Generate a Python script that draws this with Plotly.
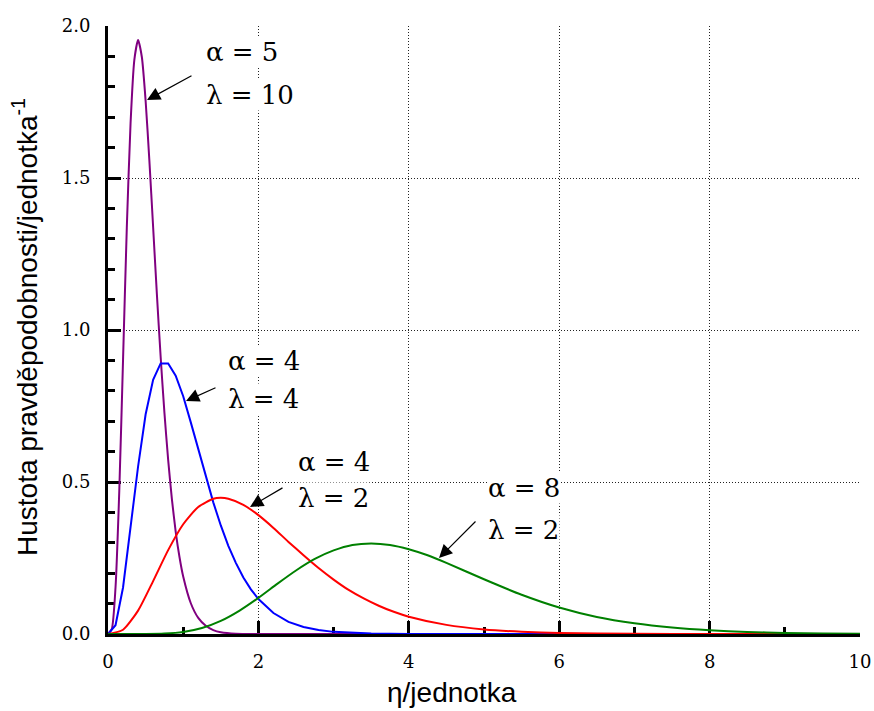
import plotly.graph_objects as go

# ---- data ----
purple_x = [0, 0.05, 0.1, 0.15, 0.2, 0.25, 0.3, 0.35, 0.4, 0.45, 0.5, 0.55, 0.6, 0.65, 0.7, 0.75,
            0.8, 0.85, 0.9, 0.95, 1.0, 1.1, 1.2, 1.3, 1.4, 1.5, 1.7, 2.0, 3.0, 10.0]
purple_y = [0, 0.016, 0.153, 0.471, 0.902, 1.336, 1.680, 1.888, 1.954, 1.898, 1.755, 1.558, 1.339,
            1.118, 0.912, 0.729, 0.573, 0.443, 0.337, 0.254, 0.189, 0.102, 0.053, 0.027, 0.013,
            0.006, 0.001, 0.0, 0.0, 0.0]

blue_x = [0, 0.1, 0.2, 0.3, 0.4, 0.5, 0.6, 0.7, 0.8, 0.9, 1.0, 1.1, 1.2, 1.3, 1.4, 1.5, 1.6, 1.7,
          1.8, 1.9, 2.0, 2.2, 2.4, 2.6, 2.8, 3.0, 3.5, 4.0, 5.0, 10.0]
blue_y = [0, 0.029, 0.153, 0.347, 0.551, 0.722, 0.836, 0.890, 0.890, 0.850, 0.782, 0.697, 0.607,
          0.517, 0.433, 0.357, 0.290, 0.234, 0.186, 0.147, 0.115, 0.069, 0.040, 0.023, 0.013,
          0.007, 0.002, 0.0003, 0, 0]

red_x = [0, 0.2, 0.4, 0.6, 0.8, 1.0, 1.2, 1.4, 1.5, 1.6, 1.8, 2.0, 2.2, 2.4, 2.6, 2.8, 3.0, 3.2,
         3.4, 3.6, 3.8, 4.0, 4.5, 5.0, 5.5, 6.0, 7.0, 8.0, 10.0]
red_y = [0, 0.014, 0.077, 0.174, 0.276, 0.361, 0.418, 0.445, 0.448, 0.445, 0.425, 0.391, 0.349,
         0.303, 0.259, 0.217, 0.179, 0.145, 0.117, 0.093, 0.073, 0.057, 0.030, 0.015, 0.0074,
         0.0035, 0.0008, 0.0002, 0.0]

green_x = [0, 0.5, 0.75, 1.0, 1.25, 1.5, 1.75, 2.0, 2.25, 2.5, 2.75, 3.0, 3.25, 3.5, 3.75, 4.0,
           4.25, 4.5, 5.0, 5.5, 6.0, 6.5, 7.0, 7.5, 8.0, 8.5, 9.0, 9.5, 10.0]
green_y = [0, 0.0001, 0.0015, 0.0069, 0.0199, 0.0432, 0.0771, 0.119, 0.165, 0.209, 0.247, 0.275,
           0.293, 0.298, 0.293, 0.279, 0.259, 0.234, 0.180, 0.129, 0.087, 0.056, 0.035, 0.021,
           0.012, 0.0067, 0.0037, 0.0020, 0.0011]

x_tickvals = [0, 2, 4, 6, 8, 10]
x_ticktext = ["0", "2", "4", "6", "8", "10"]
y_tickvals = [0, 0.5, 1.0, 1.5, 2.0]
y_ticktext = ["0.0", "0.5", "1.0", "1.5", "2.0"]

labels = [
    ("α = 5", "λ = 10"),
    ("α = 4", "λ = 4"),
    ("α = 4", "λ = 2"),
    ("α = 8", "λ = 2"),
]
x_title = "η/jednotka"
y_title = "Hustota pravděpodobnosti/jednotka<sup>-1</sup>"

# ---- figure ----
W, H = 874, 711
ML, MR, MT, MB = 108, 14, 26, 77
PW, PH = W - ML - MR, H - MT - MB
XMAX, YMAX = 10.0, 2.0


def dx(px):
    return (px - ML) / PW * XMAX


def dy(py):
    return (MT + PH - py) / PH * YMAX


fig = go.Figure()
series = [
    (purple_x, purple_y, "#800080", "spline"),
    (blue_x, blue_y, "#0000FF", "linear"),
    (red_x, red_y, "#FF0000", "spline"),
    (green_x, green_y, "#008000", "spline"),
]
for xs, ys, col, shape in series:
    fig.add_trace(go.Scatter(x=xs, y=ys, mode="lines",
                             line=dict(color=col, width=2, shape=shape, smoothing=0.6),
                             hoverinfo="skip", showlegend=False))

serif = "DejaVu Serif"
sans = "Liberation Sans"

axis_common = dict(
    showline=True, linecolor="black", linewidth=3, layer="below traces",
    ticks="inside", ticklen=13, tickwidth=3, tickcolor="black",
    showgrid=True, gridcolor="#222222", gridwidth=1, griddash="1px,2px",
    zeroline=False, automargin=False,
    tickfont=dict(family=serif, size=18, color="black"),
)

fig.update_layout(
    width=W, height=H,
    margin=dict(l=ML, r=MR, t=MT, b=MB, pad=0, autoexpand=False),
    paper_bgcolor="white", plot_bgcolor="white",
    showlegend=False,
    xaxis=dict(range=[0, XMAX], tickvals=x_tickvals, ticktext=x_ticktext,
               ticklabelstandoff=9,
               minor=dict(dtick=1, ticks="inside", ticklen=7, tickwidth=3,
                          tickcolor="black", showgrid=False),
               **axis_common),
    yaxis=dict(range=[0, YMAX], tickvals=y_tickvals, ticktext=y_ticktext,
               ticklabelstandoff=11,
               minor=dict(dtick=0.1, ticks="inside", ticklen=7, tickwidth=3,
                          tickcolor="black", showgrid=False),
               **axis_common),
)

# axis titles
fig.add_annotation(text=x_title, xref="paper", yref="paper",
                   x=(452 - ML) / PW, y=(MT + PH - 692) / PH,
                   xanchor="center", yanchor="middle", showarrow=False,
                   font=dict(family=sans, size=28, color="black"))
fig.add_annotation(text=y_title, xref="paper", yref="paper",
                   x=(25 - ML) / PW, y=(MT + PH - 327) / PH, textangle=-90,
                   xanchor="center", yanchor="middle", showarrow=False,
                   font=dict(family=sans, size=28, color="black"))

# curve labels (left x px, line1 y px, line2 y px)
label_pos = [(205, 52, 95), (227, 361, 399), (297, 462, 498), (487, 488, 530)]
for (l1, l2), (px, py1, py2) in zip(labels, label_pos):
    for txt, py in ((l1, py1), (l2, py2)):
        fig.add_annotation(text=txt, x=dx(px), y=dy(py), xref="x", yref="y",
                           xanchor="left", yanchor="middle", showarrow=False,
                           bgcolor="white", borderpad=0,
                           font=dict(family=serif, size=26, color="black"))

# arrows (head px, tail px)
arrows = [((147, 100), (193, 75)), ((186, 401), (217, 387)),
          ((250, 507), (284, 487)), ((439, 558), (477, 520))]
for (hx, hy), (tx, ty) in arrows:
    fig.add_annotation(text="", x=dx(hx), y=dy(hy), xref="x", yref="y",
                       ax=tx - hx, ay=ty - hy, showarrow=True,
                       arrowhead=2, arrowsize=2.2, arrowwidth=1.2, arrowcolor="black")

fig.write_html("out.html")
